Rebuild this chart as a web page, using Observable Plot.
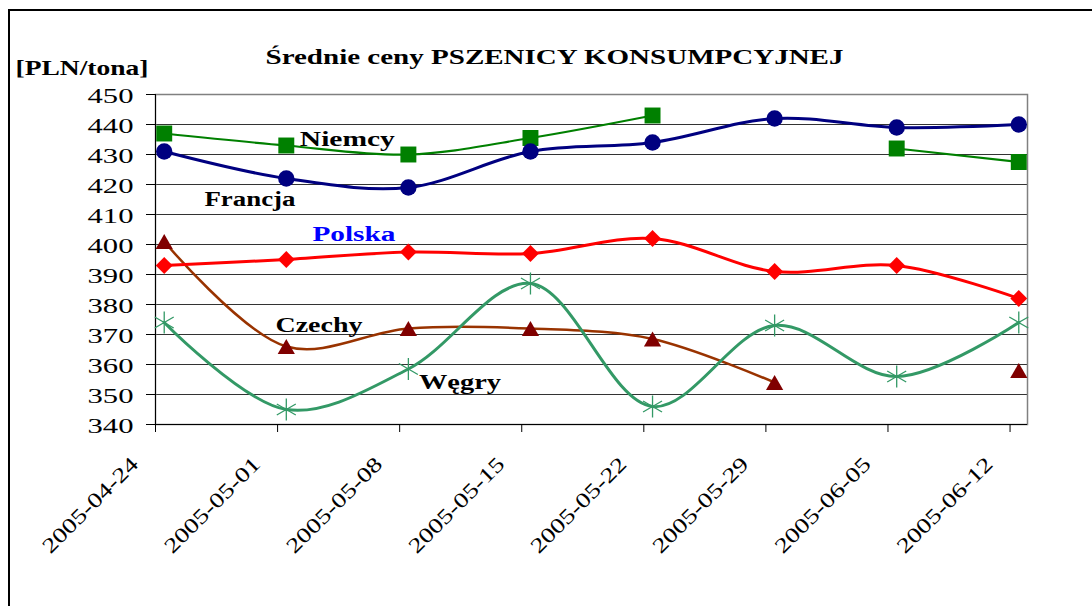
<!DOCTYPE html>
<html><head><meta charset="utf-8">
<script src="https://cdn.jsdelivr.net/npm/d3@7"></script>
<script src="https://cdn.jsdelivr.net/npm/@observablehq/plot@0.6"></script>
<style>
body{margin:0;background:#fff;}
#wrap{position:relative;width:1092px;height:606px;overflow:hidden;background:#fff;}
#chart{position:absolute;left:0;top:0;}
#chart svg, #chart svg text{font-family:"Liberation Serif","DejaVu Serif","Times New Roman",Times,serif !important;}
#border{position:absolute;left:8px;top:9px;width:2000px;height:2000px;border-left:2px solid #000;border-top:2px solid #000;pointer-events:none;}
</style></head><body>
<div id="wrap"><div id="chart"></div><div id="border"></div></div>
<script>
// ---- data ----
const titleText = "Średnie ceny PSZENICY KONSUMPCYJNEJ";
const unitText = "[PLN/tona]";
const dates = ["2005-04-24","2005-05-01","2005-05-08","2005-05-15","2005-05-22","2005-05-29","2005-06-05","2005-06-12"];
const tickDates = ["2005-04-24","2005-05-01","2005-05-08","2005-05-15","2005-05-22","2005-05-29","2005-06-05","2005-06-12"];
const xDomain = ["2005-04-24","2005-06-13"];
const yTicks = [340,350,360,370,380,390,400,410,420,430,440,450];
const francja = [431, 422, 419, 431, 434, 442, 439, 440];
const niemcy  = [437, 433, 430, 435.5, 443, null, 432, 427.5];
const polska  = [393, 395, 397.5, 397, 402, 391, 393, 382];
const czechy  = [401, 366, 372, 372, 368.5, 354, null, 358];
const wegry   = [374, 345, 358.5, 387, 346, 373, 356, 374];
const labelNames = ["Niemcy","Francja","Polska","Czechy","Węgry"];
const labelDates = ["2005-05-05T00:00Z","2005-04-29T10:00Z","2005-05-05T09:00Z","2005-05-03T09:00Z","2005-05-11T11:00Z"];
const labelValues = [435.1, 415.1, 403.2, 373.1, 354.0];
const labelColors = ["#000000","#000000","#0000FF","#000000","#000000"];

// ---- styling ----
const FONT = "Liberation Serif, DejaVu Serif, serif";
const series = [
  {values: czechy,  line: "#993300", fill: "#800000", stroke: "none", symbol: "triangle", r: 6.4, width: 2.5, dy: 2.5},
  {values: wegry,   line: "#339966", fill: "none", stroke: "#339966", symbol: "asterisk", r: 10.4, width: 3, dy: 0},
  {values: polska,  line: "#FF0000", fill: "#FF0000", stroke: "none", symbol: "diamond2", r: 7.6, width: 3, dy: 0},
  {values: niemcy,  line: "#008000", fill: "#008000", stroke: "none", symbol: "square", r: 9, width: 2.2, dy: 0},
  {values: francja, line: "#000080", fill: "#000080", stroke: "none", symbol: "circle", r: 8.2, width: 3, dy: 0}
];
const HALF_DAY = 12 * 3600 * 1000;
const toRows = (vals) => dates.map((d, i) => ({x: new Date(Date.parse(d) + HALF_DAY), y: vals[i]}));

const xStart = new Date(xDomain[0]);
const marks = [
  Plot.ruleY(yTicks.filter(v => v > 340 && v < 450), {stroke: "#333", strokeWidth: 1}),
  Plot.frame({stroke: "#808080", strokeWidth: 1.5}),
  Plot.ruleX([xStart], {stroke: "#000", strokeWidth: 1}),
  Plot.ruleY([yTicks[0]], {stroke: "#000", strokeWidth: 1}),
  Plot.axisY({ticks: yTicks, tickSize: 9, tickFormat: () => "", stroke: "#000", label: null}),
  Plot.axisX({ticks: tickDates.map(d => new Date(d)), tickSize: 8, tickFormat: () => "", stroke: "#000", label: null})
];
for (const s of series) {
  const rows = toRows(s.values);
  marks.push(Plot.line(rows, {x: "x", y: "y", stroke: s.line, strokeWidth: s.width, curve: "catmull-rom"}));
}
for (const s of series) {
  const rows = toRows(s.values).filter(r => r.y != null);
  marks.push(Plot.dot(rows, {x: "x", y: "y", symbol: s.symbol, r: s.r, fill: s.fill, stroke: s.stroke, strokeWidth: s.stroke === "none" ? 0 : 1.3, dy: s.dy}));
}
marks.push(
  Plot.text(yTicks, {y: d => d, text: d => String(d), frameAnchor: "left", textAnchor: "end", dx: -22, dy: 2, fontSize: 20, fontFamily: FONT, fill: "#000"}),
  Plot.text(tickDates, {x: d => new Date(d), text: d => d, frameAnchor: "bottom", textAnchor: "end", lineAnchor: "bottom", rotate: -45, dx: -16, dy: 41, fontSize: 21, fontFamily: FONT, fill: "#000"}),
  Plot.text(labelNames, {x: (d, i) => new Date(labelDates[i]), y: (d, i) => labelValues[i], text: d => d, fill: (d, i) => labelColors[i], fontSize: 20, fontFamily: FONT, fontWeight: "bold", textAnchor: "middle"}),
  Plot.text([titleText], {text: d => d, frameAnchor: "top-left", textAnchor: "start", lineAnchor: "bottom", dx: 110, dy: -31, fontSize: 20, fontFamily: FONT, fontWeight: "bold", fill: "#000"}),
  Plot.text([unitText], {text: d => d, frameAnchor: "top-left", textAnchor: "start", lineAnchor: "bottom", dx: -140, dy: -20, fontSize: 21, fontFamily: FONT, fontWeight: "bold", fill: "#000"})
);

const chart = Plot.plot({
  width: 1092, height: 606,
  marginLeft: 155, marginRight: 65, marginTop: 94, marginBottom: 182,
  style: {background: "transparent", color: "#000"},
  x: {type: "utc", domain: xDomain.map(d => new Date(d)), axis: null},
  y: {domain: [340, 450], axis: null},
  color: {type: "identity"},
  marks
});
document.getElementById("chart").append(chart);

// horizontal stretch of texts to the widths seen in the reference (chosen by content)
const yStr = new Set(yTicks.map(String));
const xStr = new Set(tickDates);
const nameWidths = {"Niemcy": 95, "Francja": 91, "Polska": 83, "Czechy": 87, "Węgry": 82};
function targetWidth(s) {
  if (yStr.has(s)) return 46;
  if (xStr.has(s)) return 126;
  if (s in nameWidths) return nameWidths[s];
  if (s === titleText) return 578;
  if (s === unitText) return 133;
  return 0;
}
chart.querySelectorAll("text").forEach(t => {
  const w = targetWidth(t.textContent);
  if (w > 0 && t.getComputedTextLength() > 0) { t.setAttribute("textLength", w); t.setAttribute("lengthAdjust", "spacingAndGlyphs"); }
});
</script>
</body></html>
